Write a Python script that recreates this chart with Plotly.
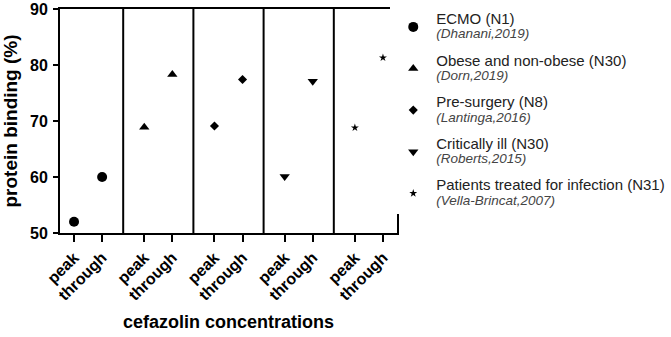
import plotly.graph_objects as go

groups = ["ECMO (N1)", "Obese and non-obese (N30)", "Pre-surgery (N8)",
          "Critically ill (N30)", "Patients treated for infection (N31)"]
citations = ["(Dhanani,2019)", "(Dorn,2019)", "(Lantinga,2016)",
             "(Roberts,2015)", "(Vella-Brincat,2007)"]
tick_labels = ["peak", "through"]
peak_values = [52.0, 68.9, 69.1, 60.1, 68.8]
through_values = [60.0, 78.3, 77.4, 77.1, 81.3]
symbols = ["circle", "triangle-up", "diamond", "triangle-down", "star"]
sizes = [10, 9, 7, 9, 6]

GROUP_STEP = 2.5
fig = go.Figure()
tickvals, ticktext = [], []
for i, g in enumerate(groups):
    xs = [i * GROUP_STEP, i * GROUP_STEP + 1]
    tickvals += xs
    ticktext += tick_labels
    fig.add_trace(go.Scatter(
        x=xs, y=[peak_values[i], through_values[i]], mode="markers",
        marker=dict(symbol=symbols[i], size=sizes[i], color="black", line=dict(width=0)),
        legendgroup=f"g{i}",
        name=(f"<span style='font-size:15px'>{g}</span><br>"
              f"<span style='font-size:13.5px;font-style:italic;fill:#444'>{citations[i]}</span>"),
    ))

# panel separators between groups
for i in range(len(groups) - 1):
    xm = i * GROUP_STEP + 1 + (GROUP_STEP - 1) / 2
    fig.add_shape(type="line", x0=xm, x1=xm, y0=0, y1=1, xref="x", yref="paper",
                  line=dict(color="black", width=2))

font = "Arial, Liberation Sans, sans-serif"
fig.update_layout(
    width=671, height=337,
    margin=dict(l=60, r=274, t=9, b=104, autoexpand=False),
    plot_bgcolor="white", paper_bgcolor="white",
    font=dict(family=font, color="black"),
    showlegend=True,
    legend=dict(x=0.98, y=1.013, xanchor="left", yanchor="top", maxheight=330,
                font=dict(size=11, color="#222", family=font),
                itemwidth=36, tracegroupgap=10, valign="middle"),
    xaxis=dict(range=[-0.5, (len(groups) - 1) * GROUP_STEP + 1.5], automargin=False,
               tickvals=tickvals, ticktext=ticktext, tickangle=-45,
               showline=True, linecolor="black", linewidth=2, mirror=True,
               ticks="outside", ticklen=7, tickwidth=2, tickcolor="black",
               showgrid=False, zeroline=False,
               tickfont=dict(size=16, family=font, weight="bold"),
               title=dict(text="<b>cefazolin concentrations</b>", font=dict(size=18), standoff=13)),
    yaxis=dict(range=[50, 90], tickvals=[50, 60, 70, 80, 90], automargin=False,
               showline=True, linecolor="black", linewidth=2, mirror=True,
               ticks="outside", ticklen=5, tickwidth=2, tickcolor="black",
               showgrid=False, zeroline=False, ticklabelstandoff=2,
               tickfont=dict(size=16, family=font, weight="bold"),
               title=dict(text="<b>protein binding (%)</b>", font=dict(size=19), standoff=8)),
)
fig.write_html("out.html", config={"displayModeBar": False},
               post_script="document.body.style.margin='0';")
